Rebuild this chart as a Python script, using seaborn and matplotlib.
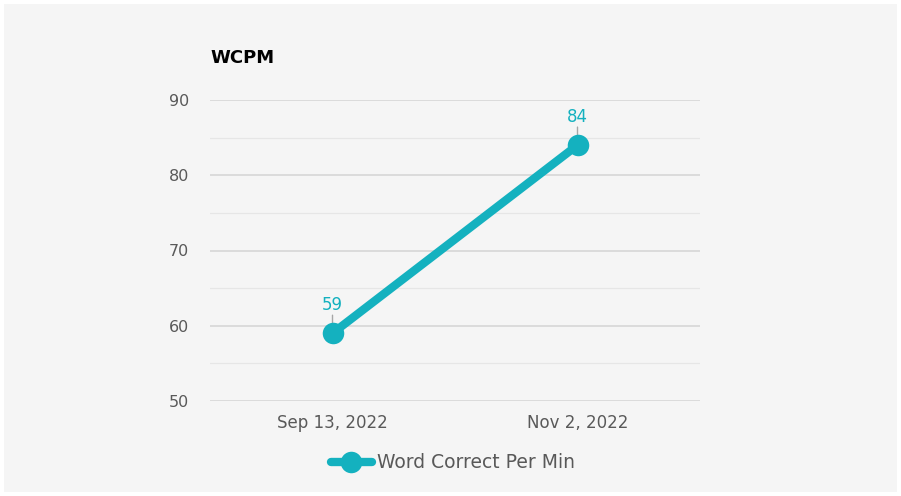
import matplotlib
matplotlib.use("Agg")
import matplotlib.pyplot as plt
import seaborn as sns
import pandas as pd
from matplotlib.patches import Rectangle
from matplotlib.lines import Line2D

dates = ["Sep 13, 2022", "Nov 2, 2022"]
wcpm = [59, 84]
series_name = "Word Correct Per Min"
yticks = [50, 60, 70, 80, 90]

sns.set_style("white")
plt.rcParams['font.family'] = ['DejaVu Sans']

color = "#14b1bf"
text_color = "#595959"

fig = plt.figure(figsize=(9.01, 4.96), dpi=100)
fig.patch.set_facecolor("white")
fig.patches.append(Rectangle((4/901, 4/496), 893/901, 488/496, transform=fig.transFigure,
                             facecolor="#f5f5f5", edgecolor="none", zorder=-10))
ax = fig.add_axes([210/901, 1-401/496, 490/901, 301/496])
ax.set_facecolor("none")

df = pd.DataFrame({"date": dates, "wcpm": wcpm})
sns.lineplot(data=df, x="date", y="wcpm", ax=ax, color=color, linewidth=6,
             marker="o", markersize=15.5, markeredgewidth=0, sort=False, zorder=5)

ax.set_xlim(-0.5, 1.5)
ax.set_ylim(50, 90)
ax.set_yticks(yticks)
ax.set_yticks([55, 65, 75, 85], minor=True)
ax.grid(which="major", axis="y", color="#d6d6d6", linewidth=1.2)
ax.grid(which="minor", axis="y", color="#e6e6e6", linewidth=0.9)
ax.set_axisbelow(True)
for s in ax.spines.values():
    s.set_visible(False)
ax.tick_params(axis="y", which="both", length=0, pad=15, labelsize=11.5, labelcolor=text_color)
ax.tick_params(axis="x", length=0, pad=9, labelsize=12, labelcolor=text_color)
ax.set_xlabel("")
ax.set_ylabel("")

for i, v in enumerate(wcpm):
    ax.annotate("", xy=(i, v), xytext=(0, 13), textcoords="offset points",
                arrowprops=dict(arrowstyle="-", color="#a6a6a6", lw=1, shrinkA=0, shrinkB=0), zorder=4)
    ax.annotate(str(v), xy=(i, v), xytext=(0, 14), textcoords="offset points",
                ha="center", va="bottom", color=color, fontsize=12)

fig.text(210/901, 1-58/496, "WCPM", fontsize=13, fontweight="bold", color="black",
         ha="left", va="center")

handle = Line2D([], [], color=color, linewidth=6, marker="o", markersize=15.5, markeredgewidth=0)
fig.legend([handle], [series_name], loc="center", bbox_to_anchor=(453/901, 1-463/496),
           frameon=False, fontsize=13.5, labelcolor=text_color, handlelength=2.2, handletextpad=0.3)

fig.savefig("out.png", dpi=100)
